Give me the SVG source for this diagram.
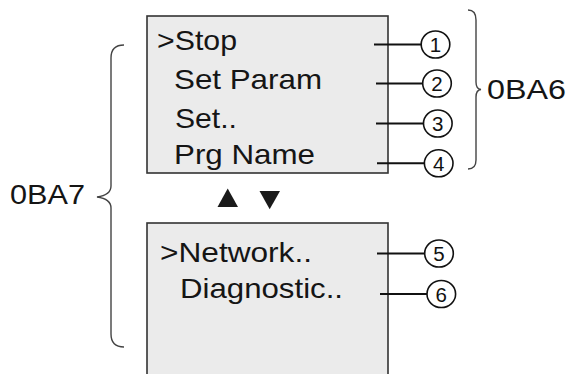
<svg xmlns="http://www.w3.org/2000/svg" width="570" height="374" viewBox="0 0 570 374">
<style>
.scr{fill:#ebebeb;stroke:#333;stroke-width:1.6}
.t{font-family:"Liberation Sans",Arial,sans-serif;font-size:28px;fill:#151515}
.lbl{font-family:"Liberation Sans",Arial,sans-serif;font-size:28.5px;fill:#151515}
.num{font-family:"Liberation Sans",Arial,sans-serif;font-size:20.5px;fill:#111;text-anchor:middle}
.cir{fill:#fff;stroke:#111;stroke-width:1.6}
.lead{stroke:#111;stroke-width:2;fill:none}
.brace{stroke:#444;stroke-width:1.4;fill:none}
.tri{fill:#1a1a1a}
</style>
<g id="screen-top">
<rect class="scr" x="147" y="16" width="241" height="157"/>
<text class="t" x="157" y="49.5" textLength="80" lengthAdjust="spacingAndGlyphs">&gt;Stop</text>
<text class="t" x="174" y="89" textLength="148" lengthAdjust="spacingAndGlyphs">Set Param</text>
<text class="t" x="175" y="127.7" textLength="62" lengthAdjust="spacingAndGlyphs">Set..</text>
<text class="t" x="174" y="164" textLength="141" lengthAdjust="spacingAndGlyphs">Prg Name</text>
</g>
<g id="screen-bottom">
<rect class="scr" x="147" y="223" width="241" height="160"/>
<text class="t" x="160" y="261.7" textLength="152" lengthAdjust="spacingAndGlyphs">&gt;Network..</text>
<text class="t" x="180" y="298.3" textLength="163" lengthAdjust="spacingAndGlyphs">Diagnostic..</text>
</g>
<g id="scroll-arrows">
<polygon class="tri" points="227.7,188.5 238,207 217.5,207"/>
<polygon class="tri" points="259.5,191 280,191 269.7,209.3"/>
</g>
<g id="connectors">
<line class="lead" x1="374" y1="44.5" x2="421" y2="44.5"/>
<line class="lead" x1="376" y1="83.5" x2="423" y2="83.5"/>
<line class="lead" x1="376" y1="123.5" x2="424" y2="123.5"/>
<line class="lead" x1="377" y1="163.3" x2="424" y2="163.3"/>
<line class="lead" x1="377" y1="253.5" x2="425" y2="253.5"/>
<line class="lead" x1="380" y1="294" x2="427" y2="294"/>
</g>
<g id="callout-1"><ellipse class="cir" cx="435.5" cy="44.5" rx="14.3" ry="13.5"/><text class="num" x="435.5" y="52">1</text></g>
<g id="callout-2"><ellipse class="cir" cx="437" cy="83.5" rx="14.3" ry="13.5"/><text class="num" x="437" y="91">2</text></g>
<g id="callout-3"><ellipse class="cir" cx="437.8" cy="123.5" rx="14.3" ry="13.5"/><text class="num" x="437.8" y="131">3</text></g>
<g id="callout-4"><ellipse class="cir" cx="438.7" cy="163.3" rx="14.3" ry="13.5"/><text class="num" x="438.7" y="170.8">4</text></g>
<g id="callout-5"><ellipse class="cir" cx="439" cy="253.5" rx="14.3" ry="13.5"/><text class="num" x="439" y="261">5</text></g>
<g id="callout-6"><ellipse class="cir" cx="441.3" cy="294" rx="14.3" ry="13.5"/><text class="num" x="441.3" y="301.5">6</text></g>
<g id="brace-0BA6">
<path class="brace" d="M468,10 Q476,10 476,20 L476,82 Q476,89 481,89.5 Q476,90 476,97 L476,160 Q476,169 468,169"/>
<text class="lbl" x="487" y="99" textLength="79" lengthAdjust="spacingAndGlyphs">0BA6</text>
</g>
<g id="brace-0BA7">
<path class="brace" d="M124,45 Q111,45 111,58 L111,186 Q111,195 97,197 Q111,199 111,208 L111,334 Q111,347 124,347"/>
<text class="lbl" x="10" y="204" textLength="75" lengthAdjust="spacingAndGlyphs">0BA7</text>
</g>
</svg>
